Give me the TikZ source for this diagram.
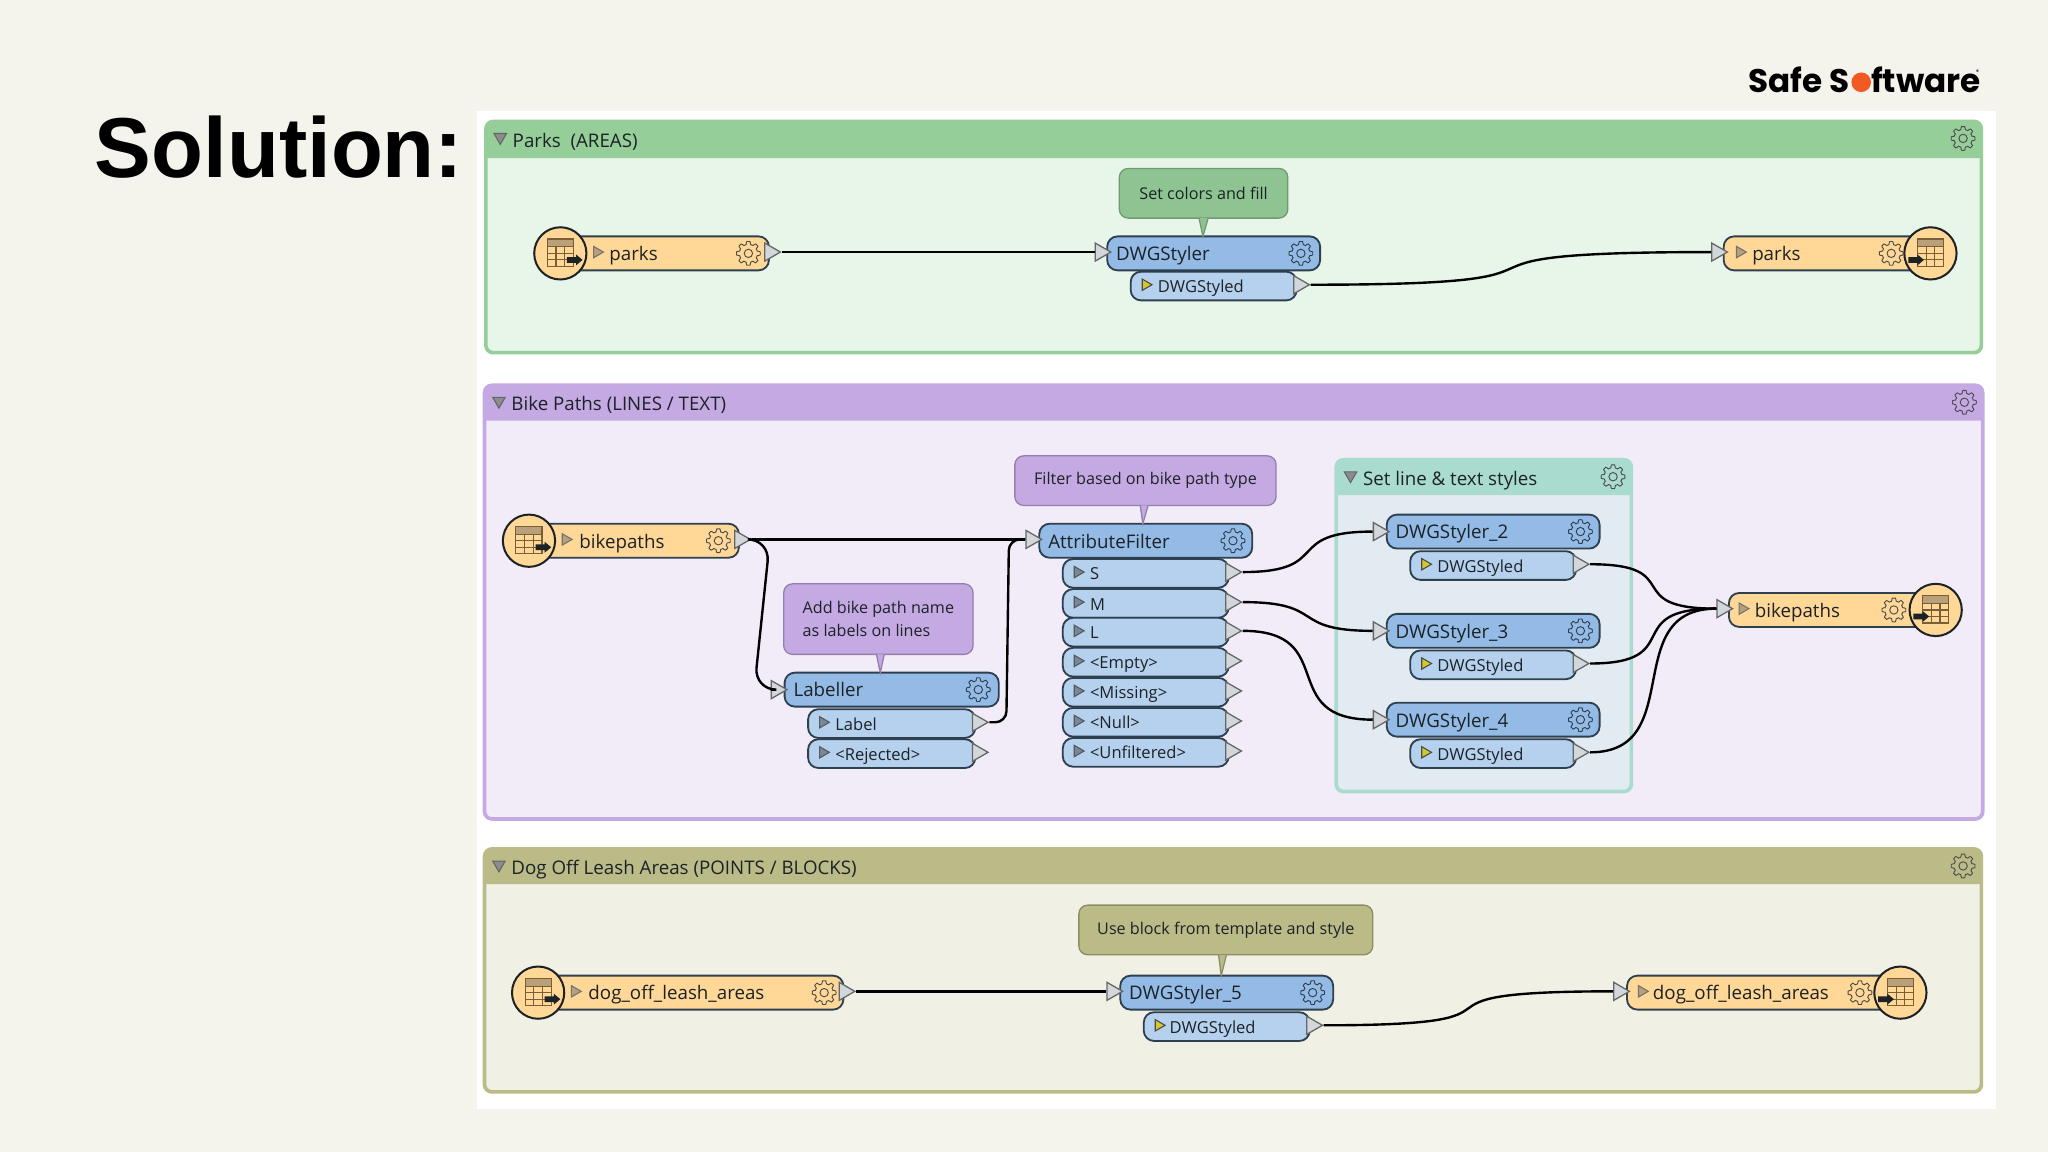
\documentclass[tikz,border=0pt]{standalone}
\usepackage{fontspec}
\setmainfont{Open Sans}
\newfontfamily\titlefont{Liberation Sans}
\newfontfamily\logofont{Poppins}
\usetikzlibrary{calc,shapes.geometric}
\definecolor{Ink}{HTML}{1C2226}
\definecolor{Edge}{HTML}{2E3F4F}
\definecolor{Slide}{HTML}{F4F3EC}
\definecolor{ParksHead}{HTML}{96CE99}
\definecolor{ParksBody}{HTML}{E8F5E9}
\definecolor{BikeHead}{HTML}{C5A9E3}
\definecolor{BikeBody}{HTML}{F2ECF9}
\definecolor{DogHead}{HTML}{BBBB88}
\definecolor{DogBody}{HTML}{F1F0E5}
\definecolor{SetHead}{HTML}{A9DCCF}
\definecolor{SetBody}{HTML}{E3EBF2}
\definecolor{ReaderFill}{HTML}{FFD796}
\definecolor{XformFill}{HTML}{93BBE6}
\definecolor{PortFill}{HTML}{B5D1EE}
\definecolor{TipFill}{HTML}{D2D7DC}
\definecolor{TableLine}{HTML}{7A5F36}
\definecolor{TableHead}{HTML}{B8A078}
\definecolor{LogoDot}{HTML}{F15A22}
\tikzset{
  every node/.style={text=Ink},
  fmebox/.style={draw=Edge, line width=0.5pt, rounded corners=2.8pt, inner sep=0pt},
  readerbox/.style={fmebox, fill=ReaderFill, minimum height=26*0.0125cm},
  xformbox/.style={fmebox, fill=XformFill, minimum width=163*0.0125cm, minimum height=26*0.0125cm},
  portbox/.style={fmebox, fill=PortFill, minimum width=127*0.0125cm, minimum height=22*0.0125cm},
  tiptri/.style={regular polygon, regular polygon sides=3, shape border rotate=-90, draw=black!60,
    fill=TipFill, line width=0.35pt, minimum size=16*0.0125cm, inner sep=0pt, anchor=west},
  marktri/.style={regular polygon, regular polygon sides=3, shape border rotate=-90,
    line width=0.3pt, minimum size=10*0.0125cm, inner sep=0pt},
  iconball/.style={circle, draw=Ink, line width=0.55pt, fill=ReaderFill, minimum size=40*0.0125cm, inner sep=0pt},
  bigtext/.style={font=\fontsize{5.1}{6}\selectfont, anchor=west, inner sep=0pt, text height=5pt, text depth=1pt},
  smalltext/.style={font=\fontsize{4.5}{5.4}\selectfont, anchor=west, inner sep=0pt, text height=4.6pt, text depth=1pt},
  notebox/.style={rounded corners=2.4pt, line width=0.35pt, inner sep=0pt},
  wire/.style={draw=black, line width=0.65pt},
  pics/gear/.style={code={
    \draw[draw=#1, line width=0.25pt] plot[domain=0:360, samples=145]
      ({(8+1.1*max(min(2.2*cos(8*\x),1),-1))*cos(\x)},{(8+1.1*max(min(2.2*cos(8*\x),1),-1))*sin(\x)}) -- cycle;
    \draw[draw=#1, line width=0.25pt] (0,0) circle[radius=3.2];
  }},
  pics/tableicon/.style={code={
    \fill[TableHead] (-10,-11) rectangle (10,-5);
    \draw[draw=TableLine, line width=0.3pt] (-10,-11) rectangle (10,10);
    \foreach \r in {-5,0,5} {\draw[draw=TableLine, line width=0.3pt] (-10,\r) -- (10,\r);}
    \foreach \c in {-3.3,3.3} {\draw[draw=TableLine, line width=0.3pt] (\c,-5) -- (\c,10);}
    \fill[Ink] (#1,2.8) -- ++(7,0) -- ++(0,-2) -- ++(5,4.2) -- ++(-5,4.2) -- ++(0,-2) -- ++(-7,0) -- cycle;
  }},
}

\begin{document}
\begin{tikzpicture}[x=0.0125cm,y=-0.0125cm]
  \useasboundingbox (0,0) rectangle (1568,882);
  \fill[Slide] (0,0) rectangle (1568,882);
  \fill[white] (365,85) rectangle (1528,849);

  % Title and logo.
  \node[font=\titlefont\bfseries\fontsize{23.15}{26}\selectfont, anchor=base west, inner sep=0pt, text=black]
    (slideTitle) at (72,136) {Solution:};
  \node[font=\logofont\bfseries\fontsize{8.9}{10}\selectfont, anchor=base west, inner sep=0pt, text=black]
    (logoLeft) at (1338,71) {Safe S};
  \node[circle, fill=LogoDot, minimum size=15*0.0125cm, inner sep=0pt] (logoDot) at (1425,63) {};
  \node[font=\logofont\bfseries\fontsize{8.9}{10}\selectfont, anchor=base west, inner sep=0pt, text=black]
    (logoRight) at (1432,71) {ftware};
  \node[font=\logofont\fontsize{1.8}{2}\selectfont, inner sep=0pt, text=black] (logoMark) at (1514,55) {®};

  % Bookmarks.
  \foreach \nm/\xa/\ya/\xb/\yb/\yh/\cola/\colb/\ttl in {
      parks/372/93/1517/270/121/ParksHead/ParksBody/{Parks\ \ (AREAS)},
      bike/371/295/1518/627/322/BikeHead/BikeBody/{Bike Paths (LINES / TEXT)},
      dog/371/650/1517/836/677/DogHead/DogBody/{Dog Off Leash Areas (POINTS / BLOCKS)},
      lines/1023/352/1249/606/379/SetHead/SetBody/{Set line \& text styles}} {
    \draw[draw=\cola, fill=\colb, line width=1pt, rounded corners=2pt] (\xa,\ya) rectangle (\xb,\yb);
    \fill[\cola] (\xa,\yh) [rounded corners=2pt] -- (\xa,\ya) -- (\xb,\ya) [sharp corners] -- (\xb,\yh) -- cycle;
    \node[marktri, shape border rotate=180, minimum size=11*0.0125cm, draw=black!60, fill=black!45] (\nm Fold) at (\xa+11,\ya+12) {};
    \node[bigtext] (\nm Title) at (\xa+20,\ya+14) {\ttl};
    \pic at (\xb-14,\ya+13) {gear=black!70};
  }

  % Parks.
  \node[readerbox, minimum width=159*0.0125cm, anchor=west] (parksIn) at (429,194) {};
  \node[iconball] (parksInIcon) at (429,194) {};
  \pic at (parksInIcon) {tableicon=5};
  \node[marktri, draw=black!55, fill=TableHead] (parksInMark) at (457,193) {};
  \node[bigtext] (parksInText) at (466,194) {parks};
  \pic at (573,194) {gear=black!70};
  \node[tiptri] (parksInOut) at (585,193) {};

  \node[portbox, anchor=west] (stylerPort) at (865,219) {};
  \node[xformbox, anchor=west] (styler) at (847,194) {};
  \node[tiptri] (stylerIn) at (838,193) {};
  \node[bigtext] (stylerText) at (854,194) {DWGStyler};
  \pic at (996,194) {gear=Edge};
  \node[marktri, draw=black!70, fill=yellow!80!black] (stylerMark) at (877,218) {};
  \node[smalltext] (stylerPortText) at (886,219) {DWGStyled};
  \node[tiptri] (stylerOut) at (990,218) {};

  \node[readerbox, minimum width=159*0.0125cm, anchor=west] (parksOut) at (1319,194) {};
  \node[iconball] (parksOutIcon) at (1478,194) {};
  \pic at (parksOutIcon) {tableicon=-17};
  \node[tiptri] (parksOutIn) at (1310,193) {};
  \node[marktri, draw=black!55, fill=TableHead] (parksOutMark) at (1332,193) {};
  \node[bigtext] (parksOutText) at (1341,194) {parks};
  \pic at (1448,194) {gear=black!70};

  \node[notebox, fill=ParksHead!95!black, draw=ParksHead!75!black, minimum width=129*0.0125cm, minimum height=38*0.0125cm, font=\fontsize{4.4}{5.4}\selectfont]
    (parksNote) at (921.5,148) {Set colors and fill};
  \draw[fill=ParksHead!95!black, draw=ParksHead!75!black, line width=0.35pt] (918,167) -- (921,181) -- (925,167);

  \draw[wire] (parksInOut.east) -- (stylerIn.west);
  \draw[wire] (stylerOut.east) .. controls +(250,0) and +(-250,0) .. (parksOutIn.west);

  % Bike paths.
  \node[readerbox, minimum width=160*0.0125cm, anchor=west] (bikeIn) at (405,414) {};
  \node[iconball] (bikeInIcon) at (405,414) {};
  \pic at (bikeInIcon) {tableicon=5};
  \node[marktri, draw=black!55, fill=TableHead] (bikeInMark) at (433,413) {};
  \node[bigtext] (bikeInText) at (443,414) {bikepaths};
  \pic at (550,414) {gear=black!70};
  \node[tiptri] (bikeInOut) at (562,413) {};

  \node[xformbox, anchor=west] (filter) at (795,414) {};
  \node[tiptri] (filterIn) at (785,413) {};
  \node[bigtext] (filterText) at (802,414) {AttributeFilter};
  \pic at (944,414) {gear=Edge};
  \foreach \nm/\y/\txt in {S/439/S, M/462/M, L/484/L, Empty/507/<Empty>, Missing/530/<Missing>, Null/553/<Null>, Unfiltered/576/<Unfiltered>} {
    \node[portbox, anchor=west] (filter\nm) at (813,\y) {};
    \node[marktri, draw=black!65, fill=PortFill!65!black] (filter\nm Mark) at (825,\y-1) {};
    \node[smalltext] (filter\nm Text) at (834,\y) {\txt};
    \node[tiptri] (filter\nm Out) at (938,\y-1) {};
  }

  \node[notebox, fill=BikeHead, draw=BikeHead!75!black, minimum width=200*0.0125cm, minimum height=38*0.0125cm, font=\fontsize{4.4}{5.4}\selectfont]
    (filterNote) at (877,368) {Filter based on bike path type};
  \draw[fill=BikeHead, draw=BikeHead!75!black, line width=0.35pt] (873,387) -- (875,401) -- (879,387);

  \node[xformbox, minimum width=164*0.0125cm, anchor=west] (labeller) at (600,528) {};
  \node[tiptri] (labellerIn) at (590,528) {};
  \node[bigtext] (labellerText) at (607,528) {Labeller};
  \pic at (749,528) {gear=Edge};
  \foreach \nm/\y/\txt in {Label/554/Label, Rejected/577/<Rejected>} {
    \node[portbox, minimum width=128*0.0125cm, anchor=west] (label\nm) at (618,\y) {};
    \node[marktri, draw=black!65, fill=PortFill!65!black] (label\nm Mark) at (630,\y-1) {};
    \node[smalltext] (label\nm Text) at (639,\y) {\txt};
    \node[tiptri] (label\nm Out) at (744,\y-1) {};
  }

  \node[notebox, fill=BikeHead, draw=BikeHead!75!black, minimum width=145*0.0125cm, minimum height=54*0.0125cm,
    font=\fontsize{4.4}{6.1}\selectfont, align=left] (labelNote) at (672.5,474) {Add bike path name\\as labels on lines};
  \draw[fill=BikeHead, draw=BikeHead!75!black, line width=0.35pt] (671,501) -- (674,515) -- (677,501);

  \foreach \i/\y in {2/407, 3/483, 4/551} {
    \node[portbox, anchor=west] (port\i) at (1079,\y+26) {};
    \node[xformbox, anchor=west] (styler\i) at (1061,\y) {};
    \node[tiptri] (styler\i In) at (1051,\y) {};
    \node[bigtext] (styler\i Text) at (1068,\y) {DWGStyler\_\i};
    \pic at (1210,\y) {gear=Edge};
    \node[marktri, draw=black!70, fill=yellow!80!black] (port\i Mark) at (1091,\y+25) {};
    \node[smalltext] (port\i Text) at (1100,\y+26) {DWGStyled};
    \node[tiptri] (styler\i Out) at (1204,\y+25) {};
  }

  \node[readerbox, minimum width=159*0.0125cm, anchor=west] (bikeOut) at (1323,467) {};
  \node[iconball] (bikeOutIcon) at (1482,467) {};
  \pic at (bikeOutIcon) {tableicon=-17};
  \node[tiptri] (bikeOutIn) at (1314,466) {};
  \node[marktri, draw=black!55, fill=TableHead] (bikeOutMark) at (1334,466) {};
  \node[bigtext] (bikeOutText) at (1343,467) {bikepaths};
  \pic at (1450,467) {gear=black!70};

  \draw[wire] (bikeInOut.east) -- (filterIn.west);
  \draw[wire, rounded corners=6pt] (bikeInOut.east) -- ++(14,0) -- ++(-12,115) -- (labellerIn.west);
  \draw[wire, rounded corners=3pt] (labelLabelOut.east) -- ++(13,0) -- ++(2,-140) -- (filterIn.west);
  \draw[wire] (filterSOut.east) .. controls +(70,0) and +(-70,0) .. (styler2In.west);
  \draw[wire] (filterMOut.east) .. controls +(65,0) and +(-65,0) .. (styler3In.west);
  \draw[wire] (filterLOut.east) .. controls +(75,0) and +(-75,0) .. (styler4In.west);
  \foreach \i in {2,3,4} {
    \draw[wire] (styler\i Out.east) .. controls +(75,0) and +(-75,0) .. (bikeOutIn.west);
  }

  % Dog off leash areas.
  \node[readerbox, minimum width=233*0.0125cm, anchor=west] (dogIn) at (412,760) {};
  \node[iconball] (dogInIcon) at (412,760) {};
  \pic at (dogInIcon) {tableicon=5};
  \node[marktri, draw=black!55, fill=TableHead] (dogInMark) at (440,759) {};
  \node[bigtext] (dogInText) at (450,760) {dog\_off\_leash\_areas};
  \pic at (631,760) {gear=black!70};
  \node[tiptri] (dogInOut) at (642,759) {};

  \node[portbox, anchor=west] (styler5Port) at (875,786) {};
  \node[xformbox, anchor=west] (styler5) at (857,760) {};
  \node[tiptri] (styler5In) at (847,759) {};
  \node[bigtext] (styler5Text) at (864,760) {DWGStyler\_5};
  \pic at (1005,760) {gear=Edge};
  \node[marktri, draw=black!70, fill=yellow!80!black] (styler5Mark) at (887,785) {};
  \node[smalltext] (styler5PortText) at (895,786) {DWGStyled};
  \node[tiptri] (styler5Out) at (1000,785) {};

  \node[readerbox, minimum width=210*0.0125cm, anchor=west] (dogOut) at (1245,760) {};
  \node[iconball] (dogOutIcon) at (1455,760) {};
  \pic at (dogOutIcon) {tableicon=-17};
  \node[tiptri] (dogOutIn) at (1235,759) {};
  \node[marktri, draw=black!55, fill=TableHead] (dogOutMark) at (1257,759) {};
  \node[bigtext] (dogOutText) at (1265,760) {dog\_off\_leash\_areas};
  \pic at (1424,760) {gear=black!70};

  \node[notebox, fill=DogHead, draw=DogHead!75!black, minimum width=225*0.0125cm, minimum height=38*0.0125cm, font=\fontsize{4.4}{5.4}\selectfont]
    (dogNote) at (938.5,712) {Use block from template and style};
  \draw[fill=DogHead, draw=DogHead!75!black, line width=0.35pt] (933,731) -- (935,747) -- (939,731);

  \draw[wire] (dogInOut.east) -- (styler5In.west);
  \draw[wire] (styler5Out.east) .. controls +(185,0) and +(-185,0) .. (dogOutIn.west);
\end{tikzpicture}
\end{document}
